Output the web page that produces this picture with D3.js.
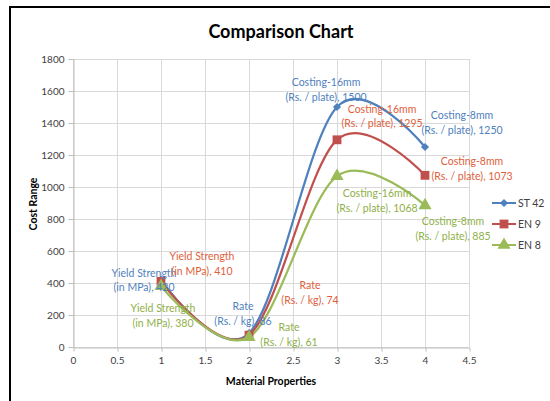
<!DOCTYPE html>
<html>
<head>
<meta charset="utf-8">
<script src="https://cdn.jsdelivr.net/npm/d3@7"></script>
<style>
  html, body { margin: 0; padding: 0; background: #fff; }
  svg { display: block; }
  text { font-family: Lato, "Open Sans", sans-serif; }
</style>
</head>
<body>
<svg id="chart" width="550" height="401"></svg>
<script>
// Material properties on the x axis (1..4) and cost values per steel grade
const xValues = [1, 2, 3, 4];
const seriesNames = ["ST 42", "EN 9", "EN 8"];
const st42 = [420, 86, 1500, 1250];
const en9 = [410, 74, 1295, 1073];
const en8 = [380, 61, 1068, 885];
const propertyNames = ["Yield Strength", "Rate", "Costing-16mm", "Costing-8mm"];
const propertyUnits = ["(in MPa)", "(Rs. / kg)", "(Rs. / plate)", "(Rs. / plate)"];
const xTicks = [0, 0.5, 1, 1.5, 2, 2.5, 3, 3.5, 4, 4.5];
const yTicks = [0, 200, 400, 600, 800, 1000, 1200, 1400, 1600, 1800];

const seriesValues = [st42, en9, en8];
const lineColors = ["#4f81bd", "#c0504d", "#9bbb59"];
const labelColors = ["#4f7fbd", "#e0603c", "#8fb04a"];
// diamond = square turned 45 degrees
const markerTypes = [d3.symbolSquare, d3.symbolSquare, d3.symbolTriangle];
const markerRotations = [45, 0, 0];
const markerSizes = [34, 78, 75];
// label block centre offsets (px) from each point
const labelOffsets = [
  [[-17, 0], [-6, -20], [-11, -18], [37, -25]],
  [[41, -18], [61, -43], [45, -24], [47, -7]],
  [[2, 29], [40, -3], [40, 24], [28, 23]]
];

const svg = d3.select("#chart");

// outer frame (top and left edges)
svg.append("line").attr("x1", 9).attr("x2", 550).attr("y1", 7).attr("y2", 7)
  .attr("stroke", "#000").attr("stroke-width", 2);
svg.append("line").attr("x1", 10).attr("x2", 10).attr("y1", 6).attr("y2", 401)
  .attr("stroke", "#000").attr("stroke-width", 2);

const x = d3.scaleLinear().domain([0, 4.5]).range([73, 469]);
const y = d3.scaleLinear().domain([0, 1800]).range([347, 59]);

// gridlines
const grid = svg.append("g");
grid.selectAll("line.v").data(xTicks).join("line")
  .attr("x1", d => Math.round(x(d)) + 0.5).attr("x2", d => Math.round(x(d)) + 0.5)
  .attr("y1", y(1800)).attr("y2", y(0))
  .attr("stroke", "#d9d9d9").attr("stroke-width", 1);
grid.selectAll("line.h").data(yTicks).join("line")
  .attr("x1", x(0)).attr("x2", x(4.5))
  .attr("y1", d => Math.round(y(d)) + 0.5).attr("y2", d => Math.round(y(d)) + 0.5)
  .attr("stroke", "#d9d9d9").attr("stroke-width", 1);

// axes
const xAxis = svg.append("g").attr("transform", `translate(0,${Math.round(y(0)) + 0.5})`)
  .call(d3.axisBottom(x).tickValues(xTicks).tickFormat(d3.format("")).tickSizeInner(4).tickSizeOuter(0).tickPadding(5));
const yAxis = svg.append("g").attr("transform", `translate(${Math.round(x(0)) + 0.5},0)`)
  .call(d3.axisLeft(y).tickValues(yTicks).tickFormat(d3.format("")).tickSizeInner(5).tickSizeOuter(0).tickPadding(4));
[xAxis, yAxis].forEach(a => {
  a.select(".domain").attr("stroke", "#bfbfbf");
  a.selectAll(".tick line").attr("stroke", "#bfbfbf");
  a.selectAll(".tick text").attr("fill", "#404040").style("font-size", "10px")
    .style("font-family", "Lato, sans-serif");
});
xAxis.selectAll(".tick line").attr("transform", "translate(0.5,0)");

// title and axis titles
svg.append("text").attr("x", 281).attr("y", 31).attr("text-anchor", "middle")
  .attr("dominant-baseline", "central").style("font-size", "18px").style("font-weight", "bold")
  .attr("fill", "#000").text("Comparison Chart");
svg.append("text").attr("x", 271).attr("y", 381).attr("text-anchor", "middle")
  .attr("dominant-baseline", "central").style("font-size", "10.5px").style("font-weight", "bold")
  .attr("fill", "#000").text("Material Properties");
svg.append("text").attr("transform", "translate(33,204) rotate(-90)").attr("text-anchor", "middle")
  .attr("dominant-baseline", "central").style("font-size", "10.5px").style("font-weight", "bold")
  .attr("fill", "#000").text("Cost Range");

// smoothed series lines
const line = d3.line().x(d => x(d[0])).y(d => y(d[1])).curve(d3.curveCardinal.tension(0));
seriesValues.forEach((vals, i) => {
  const pts = xValues.map((xv, j) => [xv, vals[j]]);
  svg.append("path").attr("d", line(pts)).attr("fill", "none")
    .attr("stroke", lineColors[i]).attr("stroke-width", 2.25);
});

// markers
seriesValues.forEach((vals, i) => {
  svg.append("g").selectAll("path").data(xValues.map((xv, j) => [xv, vals[j]])).join("path")
    .attr("transform", d => `translate(${x(d[0])},${y(d[1])}) rotate(${markerRotations[i]})`)
    .attr("d", d3.symbol().type(markerTypes[i]).size(markerSizes[i]))
    .attr("fill", lineColors[i]);
});

// data labels
seriesValues.forEach((vals, i) => {
  vals.forEach((v, j) => {
    const cx = x(xValues[j]) + labelOffsets[i][j][0];
    const cy = y(v) + labelOffsets[i][j][1];
    const t = svg.append("text").attr("text-anchor", "middle")
      .style("font-size", "10.5px").attr("fill", labelColors[i]);
    t.append("tspan").attr("x", cx).attr("y", cy - 7).attr("dominant-baseline", "central")
      .text(propertyNames[j]);
    t.append("tspan").attr("x", cx).attr("y", cy + 7.5).attr("dominant-baseline", "central")
      .text(`${propertyUnits[j]}, ${v}`);
  });
});

// legend
const legendY = [203, 224, 245];
seriesNames.forEach((name, i) => {
  const g = svg.append("g");
  g.append("line").attr("x1", 492).attr("x2", 516).attr("y1", legendY[i]).attr("y2", legendY[i])
    .attr("stroke", lineColors[i]).attr("stroke-width", 2);
  g.append("path").attr("transform", `translate(504,${legendY[i]}) rotate(${markerRotations[i]})`)
    .attr("d", d3.symbol().type(markerTypes[i]).size(markerSizes[i])).attr("fill", lineColors[i]);
  g.append("text").attr("x", 518).attr("y", legendY[i]).attr("dominant-baseline", "central")
    .style("font-size", "10.5px").attr("fill", "#404040").text(name);
});
</script>
</body>
</html>
